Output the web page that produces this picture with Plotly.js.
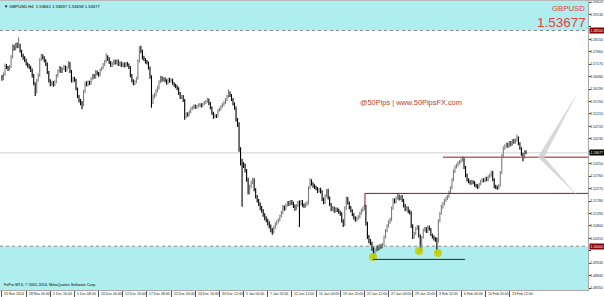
<!DOCTYPE html>
<html><head><meta charset="utf-8">
<script src="https://cdn.plot.ly/plotly-3.0.1.min.js"></script>
<style>html,body{margin:0;padding:0;background:#fff;}#chart{width:604px;height:297px;}</style>
</head><body><div id="chart"></div>
<script>
// ---- data (GBPUSD, H4, 25 Nov 2014 - 17 Feb 2015) ----
const barOpen = [
1.5668,1.5662,1.5678,1.5712,1.5704,1.5698,1.5708,1.5745,1.5788,1.5779,
1.5795,1.5786,1.5792,1.5768,1.5752,1.5741,1.5733,1.5718,1.5712,1.5705,
1.5694,1.5672,1.5640,1.5608,1.5655,1.5672,1.5738,1.5750,1.5742,1.5731,
1.5718,1.5684,1.5652,1.5638,1.5646,1.5635,1.5648,1.5671,1.5690,1.5702,
1.5688,1.5699,1.5708,1.5692,1.5705,1.5722,1.5688,1.5650,1.5662,1.5655,
1.5620,1.5590,1.5572,1.5566,1.5558,1.5610,1.5642,1.5636,1.5648,1.5641,
1.5660,1.5672,1.5665,1.5688,1.5680,1.5674,1.5696,1.5702,1.5716,1.5728,
1.5745,1.5738,1.5724,1.5712,1.5720,1.5729,1.5722,1.5731,1.5716,1.5722,
1.5712,1.5718,1.5709,1.5720,1.5714,1.5704,1.5672,1.5652,1.5640,1.5648,
1.5662,1.5730,1.5782,1.5768,1.5742,1.5736,1.5728,1.5722,1.5702,1.5668,
1.5572,1.5590,1.5596,1.5612,1.5625,1.5648,1.5664,1.5655,1.5660,1.5652,
1.5643,1.5658,1.5650,1.5655,1.5641,1.5635,1.5628,1.5620,1.5602,1.5586,
1.5590,1.5575,1.5510,1.5522,1.5518,1.5530,1.5541,1.5545,1.5552,1.5548,
1.5550,1.5556,1.5558,1.5552,1.5560,1.5566,1.5570,1.5578,1.5562,1.5546,
1.5525,1.5510,1.5515,1.5512,1.5536,1.5540,1.5550,1.5558,1.5565,1.5578,
1.5590,1.5602,1.5594,1.5578,1.5560,1.5545,1.5496,1.5482,1.5380,1.5330,
1.5322,1.5318,1.5298,1.5262,1.5212,1.5235,1.5250,1.5262,1.5222,1.5195,
1.5180,1.5165,1.5150,1.5140,1.5124,1.5110,1.5102,1.5090,1.5078,1.5066,
1.5058,1.5075,1.5088,1.5096,1.5104,1.5118,1.5132,1.5155,1.5148,1.5162,
1.5170,1.5165,1.5175,1.5168,1.5158,1.5148,1.5160,1.5172,1.5168,1.5176,
1.5162,1.5158,1.5165,1.5170,1.5230,1.5258,1.5245,1.5238,1.5232,1.5226,
1.5218,1.5224,1.5215,1.5185,1.5172,1.5198,1.5220,1.5190,1.5165,1.5145,
1.5150,1.5138,1.5146,1.5142,1.5135,1.5128,1.5100,1.5085,1.5150,1.5188,
1.5170,1.5152,1.5140,1.5125,1.5112,1.5104,1.5110,1.5115,1.5130,1.5142,
1.5150,1.5156,1.5090,1.5036,1.5020,1.5012,1.4990,1.4968,1.4985,1.4995,
1.4990,1.5000,1.4998,1.5008,1.5035,1.5062,1.5080,1.5095,1.5104,1.5150,
1.5182,1.5175,1.5190,1.5198,1.5188,1.5195,1.5180,1.5160,1.5145,1.5150,
1.5138,1.5132,1.5080,1.5035,1.5050,1.5070,1.5076,1.5040,1.4992,1.5035,
1.5064,1.5070,1.5058,1.5076,1.5068,1.5045,1.5036,1.5030,1.5028,1.5020,
1.5100,1.5130,1.5155,1.5168,1.5180,1.5188,1.5195,1.5212,1.5230,1.5262,
1.5295,1.5312,1.5320,1.5328,1.5334,1.5340,1.5346,1.5310,1.5280,1.5262,
1.5255,1.5248,1.5255,1.5250,1.5240,1.5238,1.5232,1.5245,1.5255,1.5262,
1.5258,1.5268,1.5262,1.5274,1.5280,1.5290,1.5262,1.5235,1.5232,1.5228,
1.5240,1.5290,1.5355,1.5388,1.5395,1.5402,1.5395,1.5408,1.5400,1.5416,
1.5410,1.5418,1.5428,1.5405,1.5385,1.5362,1.5350,1.5372];
const barHigh = [
1.5675,1.5684,1.5720,1.5718,1.5710,1.5714,1.5752,1.5796,1.5794,1.5802,
1.5803,1.5822,1.5798,1.5774,1.5758,1.5748,1.5739,1.5724,1.5718,1.5711,
1.5700,1.5678,1.5646,1.5660,1.5680,1.5742,1.5758,1.5756,1.5748,1.5737,
1.5724,1.5690,1.5658,1.5652,1.5651,1.5654,1.5678,1.5696,1.5710,1.5708,
1.5704,1.5715,1.5712,1.5710,1.5730,1.5726,1.5694,1.5668,1.5668,1.5660,
1.5625,1.5596,1.5580,1.5572,1.5615,1.5648,1.5650,1.5654,1.5652,1.5666,
1.5678,1.5678,1.5694,1.5692,1.5686,1.5700,1.5708,1.5722,1.5734,1.5760,
1.5752,1.5744,1.5730,1.5726,1.5736,1.5735,1.5738,1.5736,1.5728,1.5728,
1.5724,1.5724,1.5726,1.5726,1.5720,1.5710,1.5678,1.5658,1.5654,1.5668,
1.5736,1.5788,1.5790,1.5774,1.5750,1.5742,1.5734,1.5728,1.5708,1.5674,
1.5598,1.5604,1.5618,1.5632,1.5654,1.5672,1.5670,1.5666,1.5666,1.5658,
1.5664,1.5664,1.5662,1.5660,1.5646,1.5640,1.5634,1.5626,1.5608,1.5596,
1.5596,1.5580,1.5528,1.5528,1.5536,1.5546,1.5552,1.5558,1.5558,1.5556,
1.5562,1.5564,1.5563,1.5566,1.5572,1.5576,1.5585,1.5582,1.5568,1.5550,
1.5530,1.5522,1.5520,1.5540,1.5546,1.5556,1.5564,1.5572,1.5584,1.5596,
1.5618,1.5610,1.5600,1.5584,1.5566,1.5550,1.5505,1.5488,1.5390,1.5345,
1.5332,1.5326,1.5304,1.5270,1.5242,1.5258,1.5270,1.5268,1.5228,1.5202,
1.5186,1.5172,1.5158,1.5146,1.5130,1.5118,1.5108,1.5098,1.5085,1.5072,
1.5082,1.5094,1.5102,1.5110,1.5124,1.5140,1.5162,1.5160,1.5168,1.5178,
1.5178,1.5182,1.5182,1.5175,1.5164,1.5166,1.5178,1.5180,1.5182,1.5182,
1.5168,1.5172,1.5178,1.5236,1.5268,1.5264,1.5252,1.5244,1.5238,1.5232,
1.5230,1.5230,1.5220,1.5192,1.5205,1.5226,1.5226,1.5196,1.5170,1.5158,
1.5156,1.5152,1.5152,1.5148,1.5140,1.5134,1.5106,1.5156,1.5196,1.5194,
1.5176,1.5158,1.5146,1.5130,1.5118,1.5116,1.5122,1.5136,1.5148,1.5156,
1.5164,1.5162,1.5096,1.5044,1.5028,1.5018,1.4996,1.4992,1.5002,1.5004,
1.5008,1.5008,1.5014,1.5042,1.5068,1.5086,1.5102,1.5112,1.5156,1.5190,
1.5188,1.5196,1.5210,1.5204,1.5200,1.5202,1.5186,1.5166,1.5158,1.5156,
1.5144,1.5138,1.5086,1.5056,1.5076,1.5084,1.5082,1.5046,1.5040,1.5070,
1.5076,1.5076,1.5082,1.5082,1.5072,1.5050,1.5042,1.5036,1.5034,1.5106,
1.5136,1.5162,1.5174,1.5186,1.5195,1.5202,1.5218,1.5236,1.5268,1.5302,
1.5318,1.5326,1.5334,1.5340,1.5346,1.5355,1.5350,1.5316,1.5286,1.5268,
1.5260,1.5262,1.5260,1.5256,1.5246,1.5244,1.5250,1.5262,1.5268,1.5268,
1.5274,1.5274,1.5280,1.5286,1.5298,1.5296,1.5268,1.5242,1.5238,1.5246,
1.5296,1.5362,1.5394,1.5402,1.5410,1.5408,1.5414,1.5414,1.5422,1.5422,
1.5424,1.5440,1.5432,1.5410,1.5390,1.5368,1.5378,1.5378];
const barLow = [
1.5652,1.5655,1.5672,1.5698,1.5690,1.5692,1.5702,1.5740,1.5770,1.5772,
1.5780,1.5780,1.5762,1.5745,1.5735,1.5726,1.5712,1.5704,1.5698,1.5686,
1.5665,1.5634,1.5592,1.5602,1.5648,1.5668,1.5730,1.5736,1.5725,1.5710,
1.5678,1.5645,1.5630,1.5632,1.5628,1.5630,1.5642,1.5665,1.5684,1.5682,
1.5682,1.5694,1.5686,1.5688,1.5700,1.5682,1.5645,1.5644,1.5648,1.5614,
1.5584,1.5566,1.5555,1.5540,1.5552,1.5604,1.5630,1.5630,1.5635,1.5636,
1.5654,1.5660,1.5660,1.5674,1.5668,1.5670,1.5690,1.5698,1.5710,1.5722,
1.5730,1.5718,1.5706,1.5706,1.5714,1.5716,1.5716,1.5710,1.5710,1.5706,
1.5706,1.5704,1.5704,1.5708,1.5698,1.5666,1.5646,1.5634,1.5634,1.5642,
1.5656,1.5724,1.5760,1.5736,1.5730,1.5720,1.5716,1.5696,1.5660,1.5545,
1.5560,1.5582,1.5590,1.5606,1.5618,1.5642,1.5648,1.5650,1.5646,1.5636,
1.5638,1.5644,1.5645,1.5636,1.5628,1.5622,1.5614,1.5596,1.5580,1.5580,
1.5568,1.5498,1.5504,1.5510,1.5512,1.5524,1.5536,1.5540,1.5542,1.5542,
1.5545,1.5550,1.5546,1.5548,1.5555,1.5560,1.5565,1.5556,1.5540,1.5518,
1.5502,1.5504,1.5505,1.5508,1.5530,1.5535,1.5545,1.5552,1.5560,1.5572,
1.5584,1.5588,1.5572,1.5554,1.5538,1.5490,1.5470,1.5372,1.5318,1.5155,
1.5308,1.5290,1.5254,1.5204,1.5205,1.5228,1.5244,1.5216,1.5188,1.5172,
1.5158,1.5142,1.5132,1.5116,1.5102,1.5094,1.5082,1.5070,1.5055,1.5045,
1.5050,1.5068,1.5082,1.5090,1.5098,1.5112,1.5126,1.5140,1.5142,1.5155,
1.5158,1.5160,1.5162,1.5150,1.5140,1.5142,1.5154,1.5076,1.5160,1.5155,
1.5150,1.5152,1.5158,1.5164,1.5224,1.5238,1.5230,1.5225,1.5220,1.5210,
1.5212,1.5208,1.5178,1.5165,1.5166,1.5192,1.5184,1.5158,1.5138,1.5140,
1.5132,1.5132,1.5135,1.5128,1.5120,1.5092,1.5076,1.5080,1.5144,1.5164,
1.5146,1.5134,1.5118,1.5105,1.5096,1.5098,1.5104,1.5110,1.5124,1.5136,
1.5142,1.5082,1.5028,1.5012,1.5004,1.4982,1.4955,1.4962,1.4978,1.4982,
1.4984,1.4990,1.4992,1.5002,1.5030,1.5055,1.5074,1.5088,1.5098,1.5144,
1.5168,1.5170,1.5184,1.5180,1.5182,1.5174,1.5152,1.5138,1.5140,1.5130,
1.5125,1.5072,1.5028,1.5030,1.5044,1.5064,1.5034,1.4978,1.4986,1.5030,
1.5058,1.5052,1.5052,1.5062,1.5040,1.5030,1.5022,1.5018,1.4975,1.5014,
1.5094,1.5124,1.5148,1.5160,1.5174,1.5182,1.5190,1.5206,1.5224,1.5256,
1.5288,1.5306,1.5314,1.5322,1.5328,1.5334,1.5304,1.5272,1.5255,1.5248,
1.5242,1.5242,1.5244,1.5234,1.5230,1.5225,1.5228,1.5240,1.5250,1.5252,
1.5252,1.5256,1.5256,1.5268,1.5274,1.5256,1.5228,1.5225,1.5222,1.5224,
1.5234,1.5284,1.5348,1.5380,1.5388,1.5388,1.5390,1.5394,1.5396,1.5404,
1.5404,1.5412,1.5398,1.5380,1.5356,1.5335,1.5346,1.5362];
const barClose = [
1.5662,1.5678,1.5712,1.5704,1.5698,1.5708,1.5745,1.5788,1.5779,1.5795,
1.5786,1.5792,1.5768,1.5752,1.5741,1.5733,1.5718,1.5712,1.5705,1.5694,
1.5672,1.5640,1.5608,1.5655,1.5672,1.5738,1.5750,1.5742,1.5731,1.5718,
1.5684,1.5652,1.5638,1.5646,1.5635,1.5648,1.5671,1.5690,1.5702,1.5688,
1.5699,1.5708,1.5692,1.5705,1.5722,1.5688,1.5650,1.5662,1.5655,1.5620,
1.5590,1.5572,1.5566,1.5558,1.5610,1.5642,1.5636,1.5648,1.5641,1.5660,
1.5672,1.5665,1.5688,1.5680,1.5674,1.5696,1.5702,1.5716,1.5728,1.5745,
1.5738,1.5724,1.5712,1.5720,1.5729,1.5722,1.5731,1.5716,1.5722,1.5712,
1.5718,1.5709,1.5720,1.5714,1.5704,1.5672,1.5652,1.5640,1.5648,1.5662,
1.5730,1.5782,1.5768,1.5742,1.5736,1.5728,1.5722,1.5702,1.5668,1.5572,
1.5590,1.5596,1.5612,1.5625,1.5648,1.5664,1.5655,1.5660,1.5652,1.5643,
1.5658,1.5650,1.5655,1.5641,1.5635,1.5628,1.5620,1.5602,1.5586,1.5590,
1.5575,1.5510,1.5522,1.5518,1.5530,1.5541,1.5545,1.5552,1.5548,1.5550,
1.5556,1.5558,1.5552,1.5560,1.5566,1.5570,1.5578,1.5562,1.5546,1.5525,
1.5510,1.5515,1.5512,1.5536,1.5540,1.5550,1.5558,1.5565,1.5578,1.5590,
1.5602,1.5594,1.5578,1.5560,1.5545,1.5496,1.5482,1.5380,1.5330,1.5322,
1.5318,1.5298,1.5262,1.5212,1.5235,1.5250,1.5262,1.5222,1.5195,1.5180,
1.5165,1.5150,1.5140,1.5124,1.5110,1.5102,1.5090,1.5078,1.5066,1.5058,
1.5075,1.5088,1.5096,1.5104,1.5118,1.5132,1.5155,1.5148,1.5162,1.5170,
1.5165,1.5175,1.5168,1.5158,1.5148,1.5160,1.5172,1.5168,1.5176,1.5162,
1.5158,1.5165,1.5170,1.5230,1.5258,1.5245,1.5238,1.5232,1.5226,1.5218,
1.5224,1.5215,1.5185,1.5172,1.5198,1.5220,1.5190,1.5165,1.5145,1.5150,
1.5138,1.5146,1.5142,1.5135,1.5128,1.5100,1.5085,1.5150,1.5188,1.5170,
1.5152,1.5140,1.5125,1.5112,1.5104,1.5110,1.5115,1.5130,1.5142,1.5150,
1.5156,1.5090,1.5036,1.5020,1.5012,1.4990,1.4968,1.4985,1.4995,1.4990,
1.5000,1.4998,1.5008,1.5035,1.5062,1.5080,1.5095,1.5104,1.5150,1.5182,
1.5175,1.5190,1.5198,1.5188,1.5195,1.5180,1.5160,1.5145,1.5150,1.5138,
1.5132,1.5080,1.5035,1.5050,1.5070,1.5076,1.5040,1.4992,1.5035,1.5064,
1.5070,1.5058,1.5076,1.5068,1.5045,1.5036,1.5030,1.5028,1.5020,1.5100,
1.5130,1.5155,1.5168,1.5180,1.5188,1.5195,1.5212,1.5230,1.5262,1.5295,
1.5312,1.5320,1.5328,1.5334,1.5340,1.5346,1.5310,1.5280,1.5262,1.5255,
1.5248,1.5255,1.5250,1.5240,1.5238,1.5232,1.5245,1.5255,1.5262,1.5258,
1.5268,1.5262,1.5274,1.5280,1.5290,1.5262,1.5235,1.5232,1.5228,1.5240,
1.5290,1.5355,1.5388,1.5395,1.5402,1.5395,1.5408,1.5400,1.5416,1.5410,
1.5418,1.5428,1.5405,1.5385,1.5362,1.5350,1.5372,1.53677];

const xTickIdx = [0,16,32,48,64,80,96,112,128,144,160,176,192,208,224,240,256,272,288,304,320,336];
const xTickLabels = ["25 Nov 2014","28 Nov 00:00","2 Dec 16:00","5 Dec 08:00","10 Dec 00:00","12 Dec 16:00",
  "17 Dec 08:00","22 Dec 00:00","24 Dec 16:00","30 Dec 12:00","5 Jan 04:00","7 Jan 20:00","12 Jan 12:00",
  "15 Jan 04:00","19 Jan 20:00","22 Jan 12:00","27 Jan 04:00","29 Jan 20:00","3 Feb 12:00","6 Feb 04:00",
  "10 Feb 20:00","13 Feb 12:00"];
const yTickVals = [1.59620,1.59130,1.58640,1.58150,1.57660,1.57170,1.56680,1.56190,1.55700,1.55210,1.54720,
  1.54230,1.53740,1.53250,1.52760,1.52270,1.51780,1.51290,1.50800,1.50310,1.49820,1.49330,1.48840,1.48350];

// levels drawn on the chart
const zoneTop = 1.58500;      // upper cyan zone edge
const zoneBottom = 1.50000;   // lower cyan zone edge
const lastPrice = 1.53677;
const resistLevel = 1.5350;   // light red line
const boxTopLevel = 1.5208;   // dark red line
const boxLowLevel = 1.4948;   // low line
const dotIdx = [245.7, 276.2, 288.7];
const dotPrice = [1.4957, 1.4981, 1.4973];

// ---- chart ----
const idx = barClose.map((_, i) => i);
const FONT = "Liberation Sans, Arial, sans-serif";
const yMin = 1.48274, yMax = 1.59661;
const xMin = -1.32, xMax = 388.1;
const tags = [zoneTop, lastPrice, zoneBottom];

const traces = [
  {
    type: "ohlc", x: idx, open: barOpen, high: barHigh, low: barLow, close: barClose,
    increasing: { line: { color: "#7c7c7c", width: 1.1 } },
    decreasing: { line: { color: "#000000", width: 1.1 } },
    tickwidth: 0.35, hoverinfo: "skip"
  },
  {
    type: "scatter", mode: "markers", x: dotIdx, y: dotPrice,
    marker: { color: "rgba(196,206,0,0.9)", size: 8, line: { width: 0 } }, hoverinfo: "skip"
  }
];

const shapes = [
  { type: "rect", xref: "paper", x0: 0, x1: 1, yref: "y", y0: zoneTop, y1: yMax, fillcolor: "#afeeee", line: { width: 0 }, layer: "below" },
  { type: "rect", xref: "paper", x0: 0, x1: 1, yref: "y", y0: yMin, y1: zoneBottom, fillcolor: "#afeeee", line: { width: 0 }, layer: "below" },
  { type: "line", xref: "paper", x0: 0, x1: 1, yref: "y", y0: zoneTop, y1: zoneTop, line: { color: "#8a8a8a", width: 1, dash: "dot" } },
  { type: "line", xref: "paper", x0: 0, x1: 1, yref: "y", y0: zoneBottom, y1: zoneBottom, line: { color: "#8a8a8a", width: 1, dash: "dot" } },
  { type: "line", xref: "paper", x0: 0, x1: 1, yref: "y", y0: lastPrice, y1: lastPrice, line: { color: "#cfcfcf", width: 1 }, layer: "below" },
  { type: "line", xref: "x", x0: 292, x1: xMax, yref: "y", y0: resistLevel, y1: resistLevel, line: { color: "rgba(190,70,70,0.85)", width: 1.5 } },
  { type: "line", xref: "x", x0: 240.4, x1: xMax, yref: "y", y0: boxTopLevel, y1: boxTopLevel, line: { color: "#8b1a1a", width: 1 } },
  { type: "line", xref: "x", x0: 240.4, x1: 240.4, yref: "y", y0: boxTopLevel, y1: 1.5158, line: { color: "#8b1a1a", width: 1 } },
  { type: "line", xref: "x", x0: 245.7, x1: 306.6, yref: "y", y0: boxLowLevel, y1: boxLowLevel, line: { color: "#4a1414", width: 1 } },
  { type: "path", xref: "x", yref: "y",
    path: "M 355,1.5351 L 380,1.5592 L 359,1.5351 L 380,1.5206 Z",
    fillcolor: "rgba(205,205,205,0.8)", line: { color: "rgba(215,215,215,0.6)", width: 0.6 } },
  { type: "rect", xref: "paper", x0: 0, x1: 1.03, yref: "paper", y0: 1.0, y1: 1.008, fillcolor: "#b8b8b8", line: { width: 0 } }
];

function priceTag(v, bg) {
  return { xref: "paper", x: 1, xanchor: "left", xshift: 0.5, yref: "y", y: v, yanchor: "middle",
    text: v.toFixed(5), showarrow: false, bgcolor: bg, borderpad: 0.5,
    font: { family: FONT, size: 3.5, color: "#ffffff" } };
}

const annotations = [
  priceTag(zoneTop, "#8b0000"),
  priceTag(lastPrice, "#000000"),
  priceTag(zoneBottom, "#8b0000"),
  { xref: "paper", yref: "paper", x: 0.004, y: 0.997, xanchor: "left", yanchor: "top", showarrow: false,
    text: "▼ GBPUSD,H4  1.53661 1.53697 1.53658 1.53677", font: { family: FONT, size: 4.2, color: "#000" } },
  { xref: "paper", yref: "paper", x: 0.998, y: 0.995, xanchor: "right", yanchor: "top", showarrow: false,
    text: "GBPUSD", font: { family: FONT, size: 7.8, color: "#e8403a" } },
  { xref: "paper", yref: "paper", x: 1.0, y: 0.96, xanchor: "right", yanchor: "top", showarrow: false,
    text: "1.53677", font: { family: FONT, size: 13.5, color: "#e8403a" } },
  { xref: "x", yref: "y", x: 235.8, y: 1.5568, xanchor: "left", yanchor: "middle", showarrow: false,
    text: "@50Pips | www.50PipsFX.com", font: { family: FONT, size: 7.4, color: "#b8402e" } },
  { xref: "paper", yref: "paper", x: 0.004, y: 0.004, xanchor: "left", yanchor: "bottom", showarrow: false,
    text: "FxPro MT4, © 2001-2014, MetaQuotes Software Corp.", font: { family: FONT, size: 3.8, color: "#000" } }
];
// date labels, left-aligned just right of each tick as in the terminal
xTickIdx.forEach((v, k) => annotations.push({
  xref: "x", yref: "paper", x: v, y: 0, yshift: -0.5, xshift: 1.5, xanchor: "left", yanchor: "top",
  showarrow: false, borderpad: 0, text: xTickLabels[k], font: { family: FONT, size: 3.5, color: "#222" }
}));

const layout = {
  width: 604, height: 297,
  margin: { l: 0, r: 16, t: 1, b: 7, pad: 0 },
  paper_bgcolor: "#ffffff", plot_bgcolor: "#ffffff",
  showlegend: false, hovermode: false,
  font: { family: FONT, size: 4, color: "#222" },
  xaxis: {
    type: "linear", range: [xMin, xMax], rangeslider: { visible: false },
    showgrid: false, zeroline: false, showline: true, mirror: true, linecolor: "#a8a8a8", linewidth: 1,
    ticks: "outside", ticklen: 6, tickcolor: "#555", tickwidth: 1,
    tickmode: "array", tickvals: xTickIdx, showticklabels: false, fixedrange: true
  },
  yaxis: {
    side: "right", range: [yMin, yMax],
    showgrid: false, zeroline: false, showline: true, mirror: true, linecolor: "#a8a8a8", linewidth: 1,
    ticks: "outside", ticklen: 1.5, tickcolor: "#444",
    tickmode: "array", tickvals: yTickVals,
    ticktext: yTickVals.map(v => tags.some(t => Math.abs(t - v) < 0.0022) ? "" : v.toFixed(5)),
    tickfont: { family: FONT, size: 3.5, color: "#222" }, ticklabelstandoff: -1, fixedrange: true
  },
  shapes: shapes,
  annotations: annotations
};

Plotly.newPlot("chart", traces, layout, { staticPlot: true, displayModeBar: false });
</script></body></html>
